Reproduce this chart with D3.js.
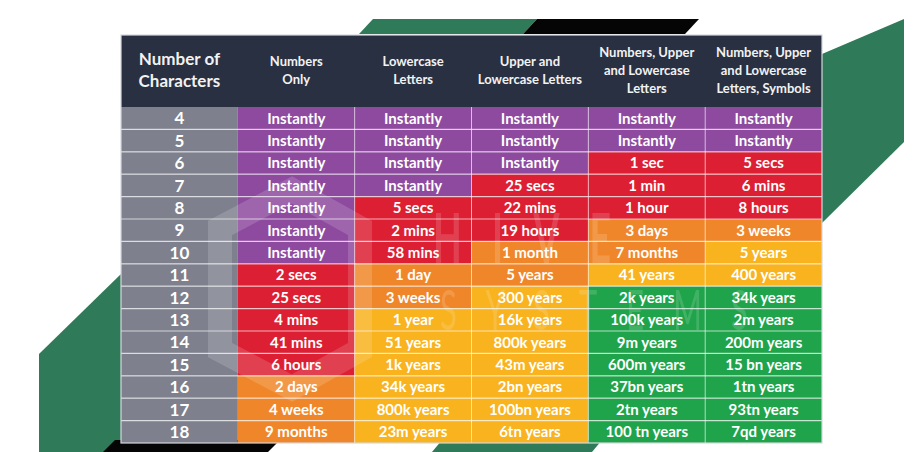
<!DOCTYPE html>
<html lang="en">
<head>
<meta charset="UTF-8">
<title>Password crack time</title>
<script src="https://cdn.jsdelivr.net/npm/d3@7/dist/d3.min.js"></script>
<style>
  html,body{margin:0;padding:0;background:#fff;}
  svg{display:block;font-family:Lato,"Noto Sans",sans-serif;}
</style>
</head>
<body>
<div class="chart"></div>
<script>
// data
const lengths = [4,5,6,7,8,9,10,11,12,13,14,15,16,17,18]
const headers = [
  ['Number of','Characters'],
  ['Numbers','Only'],
  ['Lowercase','Letters'],
  ['Upper and','Lowercase Letters'],
  ['Numbers, Upper','and Lowercase','Letters'],
  ['Numbers, Upper','and Lowercase','Letters, Symbols']
]
const numbersOnly = ['Instantly','Instantly','Instantly','Instantly','Instantly','Instantly','Instantly','2 secs','25 secs','4 mins','41 mins','6 hours','2 days','4 weeks','9 months']
const lowercase = ['Instantly','Instantly','Instantly','Instantly','5 secs','2 mins','58 mins','1 day','3 weeks','1 year','51 years','1k years','34k years','800k years','23m years']
const upperLower = ['Instantly','Instantly','Instantly','25 secs','22 mins','19 hours','1 month','5 years','300 years','16k years','800k years','43m years','2bn years','100bn years','6tn years']
const numUpperLower = ['Instantly','Instantly','1 sec','1 min','1 hour','3 days','7 months','41 years','2k years','100k years','9m years','600m years','37bn years','2tn years','100 tn years']
const allChars = ['Instantly','Instantly','5 secs','6 mins','8 hours','3 weeks','5 years','400 years','34k years','2m years','200m years','15 bn years','1tn years','93tn years','7qd years']
// strength level of each cell: 0 instant, 1 red, 2 orange, 3 yellow, 4 green
const levNumbers = [0,0,0,0,0,0,0,1,1,1,1,1,2,2,2]
const levLower = [0,0,0,0,1,1,1,2,2,3,3,3,3,3,3]
const levUpperLower = [0,0,0,1,1,1,2,2,3,3,3,3,3,3,3]
const levNumUpperLower = [0,0,1,1,1,2,2,3,4,4,4,4,4,4,4]
const levAll = [0,0,1,1,1,2,3,3,4,4,4,4,4,4,4]

const columns = [numbersOnly,lowercase,upperLower,numUpperLower,allChars]
const levels = [levNumbers,levLower,levUpperLower,levNumUpperLower,levAll]
const levelColors = ['#8d4a9f','#dc1f33','#f0862a','#f8b31f','#20a44b']

const W = 914, H = 452
const svg = d3.select('.chart').append('svg').attr('width',W).attr('height',H)

// background decoration
const green = '#2f7a59'
const deco = [
  {c:green, p:[[373,19],[537,19],[523,34],[359,34]]},
  {c:'#050505', p:[[537,19],[699,19],[685,34],[523,34]]},
  {c:green, p:[[822,54],[904,19],[904,142],[822,223]]},
  {c:green, p:[[122,273],[122,452],[39,452],[39,354]]},
  {c:'#050505', p:[[115,440],[280,440],[268,452],[103,452]]},
  {c:green, p:[[442,440],[602,440],[592,452],[432,452]]}
]
svg.selectAll('polygon.deco').data(deco).enter().append('polygon')
  .attr('class','deco').attr('fill',d=>d.c).attr('points',d=>d.p.map(q=>q.join(',')).join(' '))

// scales
const left = 121, right = 822, headTop = 35, bodyTop = 107, bodyBottom = 443
const x = d3.scaleBand().domain(d3.range(6)).range([left,right])
const y = d3.scaleBand().domain(lengths).range([bodyTop,bodyBottom])

const g = svg.append('g')

// header
g.append('rect').attr('x',left).attr('y',headTop).attr('width',right-left).attr('height',bodyTop-headTop).attr('fill','#283042')
headers.forEach((lines,i)=>{
  const big = i===0
  const lh = big ? 22 : 18
  const cy = (headTop+bodyTop)/2 - 1
  const t = g.append('text').attr('text-anchor','middle').attr('fill','#f2f2f2')
    .attr('font-weight','bold').attr('font-size',big?17:13)
  lines.forEach((s,k)=>{
    t.append('tspan').attr('x',x(i)+x.bandwidth()/2)
      .attr('y',cy+(k-(lines.length-1)/2)*lh).attr('dy','0.35em').text(s)
  })
})

// first column
g.selectAll('rect.len').data(lengths).enter().append('rect').attr('class','len')
  .attr('x',x(0)).attr('y',d=>y(d)).attr('width',x.bandwidth()).attr('height',y.bandwidth())
  .attr('fill','#7e818d')

// cells
const cells = []
columns.forEach((col,ci)=>col.forEach((txt,ri)=>cells.push({c:ci+1,len:lengths[ri],txt:txt,lev:levels[ci][ri]})))
g.selectAll('rect.cell').data(cells).enter().append('rect').attr('class','cell')
  .attr('x',d=>x(d.c)).attr('y',d=>y(d.len)).attr('width',x.bandwidth()).attr('height',y.bandwidth())
  .attr('fill',d=>levelColors[d.lev])

// watermark
const wm = svg.append('g').attr('opacity',0.15).attr('pointer-events','none')
wm.append('polygon').attr('points','292,190 360,228 360,350 292,388 220,350 220,228')
  .attr('fill','none').attr('stroke','#fff').attr('stroke-width',24)
wm.append('text').attr('transform','translate(433,263) scale(0.55,1)').attr('fill','#fff')
  .attr('font-size',68).attr('font-weight','bold').attr('letter-spacing',55).text('HIVE')
wm.append('text').attr('transform','translate(440,330) scale(0.55,1)').attr('fill','#fff')
  .attr('font-size',56).attr('letter-spacing',53).text('SYSTEMS')

// grid lines
g.selectAll('line.h').data(lengths.slice(1)).enter().append('line').attr('class','h')
  .attr('x1',left).attr('x2',right).attr('y1',d=>y(d)).attr('y2',d=>y(d))
  .attr('stroke','#ffffff').attr('stroke-opacity',0.65).attr('stroke-width',1.2)
g.selectAll('line.v').data(d3.range(2,6)).enter().append('line').attr('class','v')
  .attr('x1',d=>x(d)).attr('x2',d=>x(d)).attr('y1',bodyTop).attr('y2',bodyBottom)
  .attr('stroke','#ffffff').attr('stroke-opacity',0.55).attr('stroke-width',1)
g.append('rect').attr('x',left).attr('y',headTop).attr('width',right-left).attr('height',bodyBottom-headTop)
  .attr('fill','none').attr('stroke','#d5d7dc').attr('stroke-width',1.2)

// texts
g.selectAll('text.len').data(lengths).enter().append('text').attr('class','len')
  .attr('x',x(0)+x.bandwidth()/2).attr('y',d=>y(d)+y.bandwidth()/2).attr('dy','0.36em')
  .attr('text-anchor','middle').attr('fill','#fff').attr('font-weight','bold').attr('font-size',17)
  .text(d=>d)
g.selectAll('text.cell').data(cells).enter().append('text').attr('class','cell')
  .attr('x',d=>x(d.c)+x.bandwidth()/2).attr('y',d=>y(d.len)+y.bandwidth()/2).attr('dy','0.36em')
  .attr('text-anchor','middle').attr('fill','#fff').attr('font-weight','bold').attr('font-size',15)
  .text(d=>d.txt)
</script>
</body>
</html>
